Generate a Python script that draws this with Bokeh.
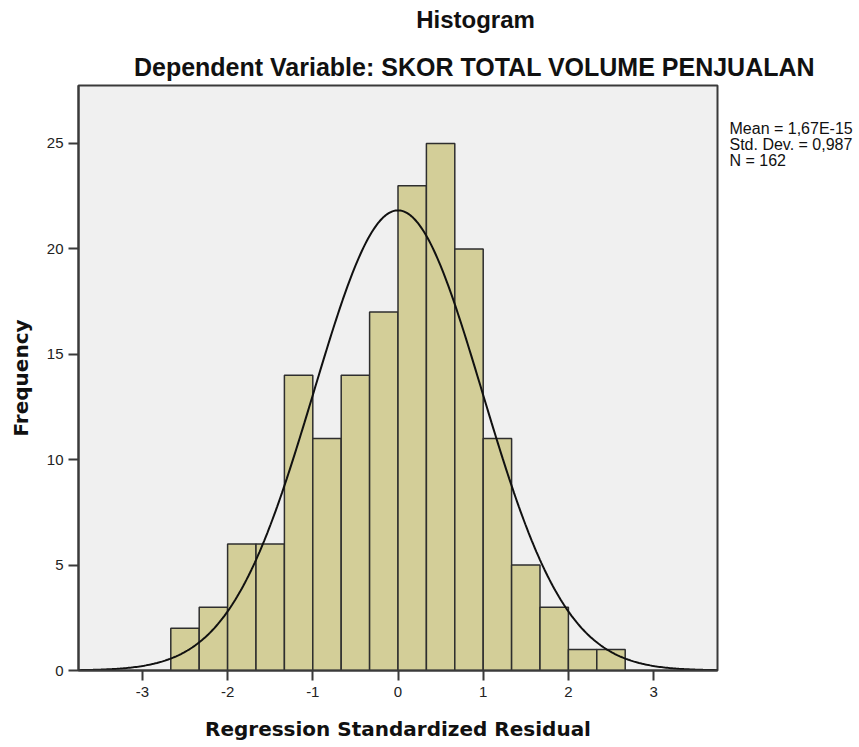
import numpy as np
from bokeh.plotting import figure
from bokeh.layouts import row, column
from bokeh.models import Range1d, FixedTicker, ColumnDataSource
from bokeh.core.properties import value
from bokeh.embed import file_html
from bokeh.resources import INLINE

# ---- data ----
bin_width = 1.0 / 3.0
bin_start = -8.0 / 3.0
counts = [2, 3, 6, 6, 14, 11, 14, 17, 23, 25, 20, 11, 5, 3, 1, 1]
x_ticks = [-3, -2, -1, 0, 1, 2, 3]
y_ticks = [0, 5, 10, 15, 20, 25]
stat_mean = 1.67e-15
stat_sd = 0.987
stat_n = 162
stat_lines = ["Mean = 1,67E-15", "Std. Dev. = 0,987", "N = 162"]
title_text = "Histogram"
subtitle_text = "Dependent Variable: SKOR TOTAL VOLUME PENJUALAN"
x_label = "Regression Standardized Residual"
y_label = "Frequency"

lefts = [bin_start + i * bin_width for i in range(len(counts))]
rights = [l + bin_width for l in lefts]
src = ColumnDataSource(dict(left=lefts, right=rights, top=counts, bottom=[0] * len(counts)))

# fitted normal curve from the stated statistics
xc = np.linspace(-3.75, 3.75, 400)
yc = stat_n * bin_width / (stat_sd * np.sqrt(2 * np.pi)) * np.exp(-0.5 * ((xc - stat_mean) / stat_sd) ** 2)


def blank(fig):
    fig.axis.visible = False
    fig.grid.visible = False
    fig.outline_line_color = None
    fig.background_fill_color = "white"
    fig.border_fill_color = "white"
    fig.frame_align = False
    return fig


# ---- title strip (pixel-like coordinates, y downward) ----
top = blank(figure(width=859, height=83, output_backend="svg", toolbar_location=None, title=None,
                   x_range=Range1d(0, 859), y_range=Range1d(83, 0), min_border=0))
top.text(x=[475], y=[19], text=[title_text], text_align="center", text_baseline="alphabetic",
         text_font=value("Liberation Sans"), text_font_style="bold",
         text_font_size="24px", text_color="#111111")
top.text(x=[474], y=[66], text=[subtitle_text], text_align="center", text_baseline="alphabetic",
         text_font=value("Liberation Sans"), text_font_style="bold",
         text_font_size="25px", text_color="#111111")

# ---- main histogram ----
p = figure(width=725, height=664, output_backend="svg", toolbar_location=None,
           x_range=Range1d(-3.75, 3.75), y_range=Range1d(0, 27.75),
           min_border_left=78, min_border_right=8, min_border_top=2, min_border_bottom=77)
p.frame_align = False
p.background_fill_color = "#f0f0f0"
p.border_fill_color = "white"
p.outline_line_color = "#3a3a3a"
p.outline_line_width = 2
p.grid.visible = False

p.quad(left="left", right="right", top="top", bottom="bottom", source=src,
       fill_color="#d3ce98", line_color="#2e2e2e", line_width=1.5)
p.line(xc, yc, line_color="#111111", line_width=2)

for ax in (p.xaxis[0], p.yaxis[0]):
    ax.axis_line_color = "#3a3a3a"
    ax.axis_line_width = 2
    ax.major_tick_line_color = "#3a3a3a"
    ax.major_tick_line_width = 2
    ax.major_tick_in = 0
    ax.major_tick_out = 10
    ax.minor_tick_line_color = None
    ax.major_label_text_font = "Liberation Sans"
    ax.major_label_text_font_size = "15px"
    ax.major_label_text_color = "#222222"
    ax.axis_label_text_font = "DejaVu Sans"
    ax.axis_label_text_font_style = "bold"
    ax.axis_label_text_font_size = "20px"
    ax.axis_label_text_color = "#111111"

p.xaxis.ticker = FixedTicker(ticks=x_ticks)
p.yaxis.ticker = FixedTicker(ticks=y_ticks)
p.xaxis.major_label_overrides = {t: str(t) for t in x_ticks}
p.xaxis.axis_label = x_label
p.yaxis.axis_label = y_label
p.xaxis.major_label_standoff = 6
p.xaxis.axis_label_standoff = 17
p.yaxis.major_label_standoff = 5
p.yaxis.axis_label_standoff = 11

# ---- side strip with the summary statistics (pixel-like coordinates, y downward) ----
p2 = blank(figure(width=134, height=664, output_backend="svg", toolbar_location=None, title=None,
                  x_range=Range1d(725, 859), y_range=Range1d(747, 83), min_border=0))
p2.text(x=[729, 729, 729], y=[128, 144, 160], text=stat_lines,
        text_align="left", text_baseline="alphabetic",
        text_font=value("Liberation Sans"), text_font_size="16px", text_color="#111111")

layout = column(top, row(p, p2, spacing=0), spacing=0)
open("out.html", "w").write(file_html(layout, INLINE))
